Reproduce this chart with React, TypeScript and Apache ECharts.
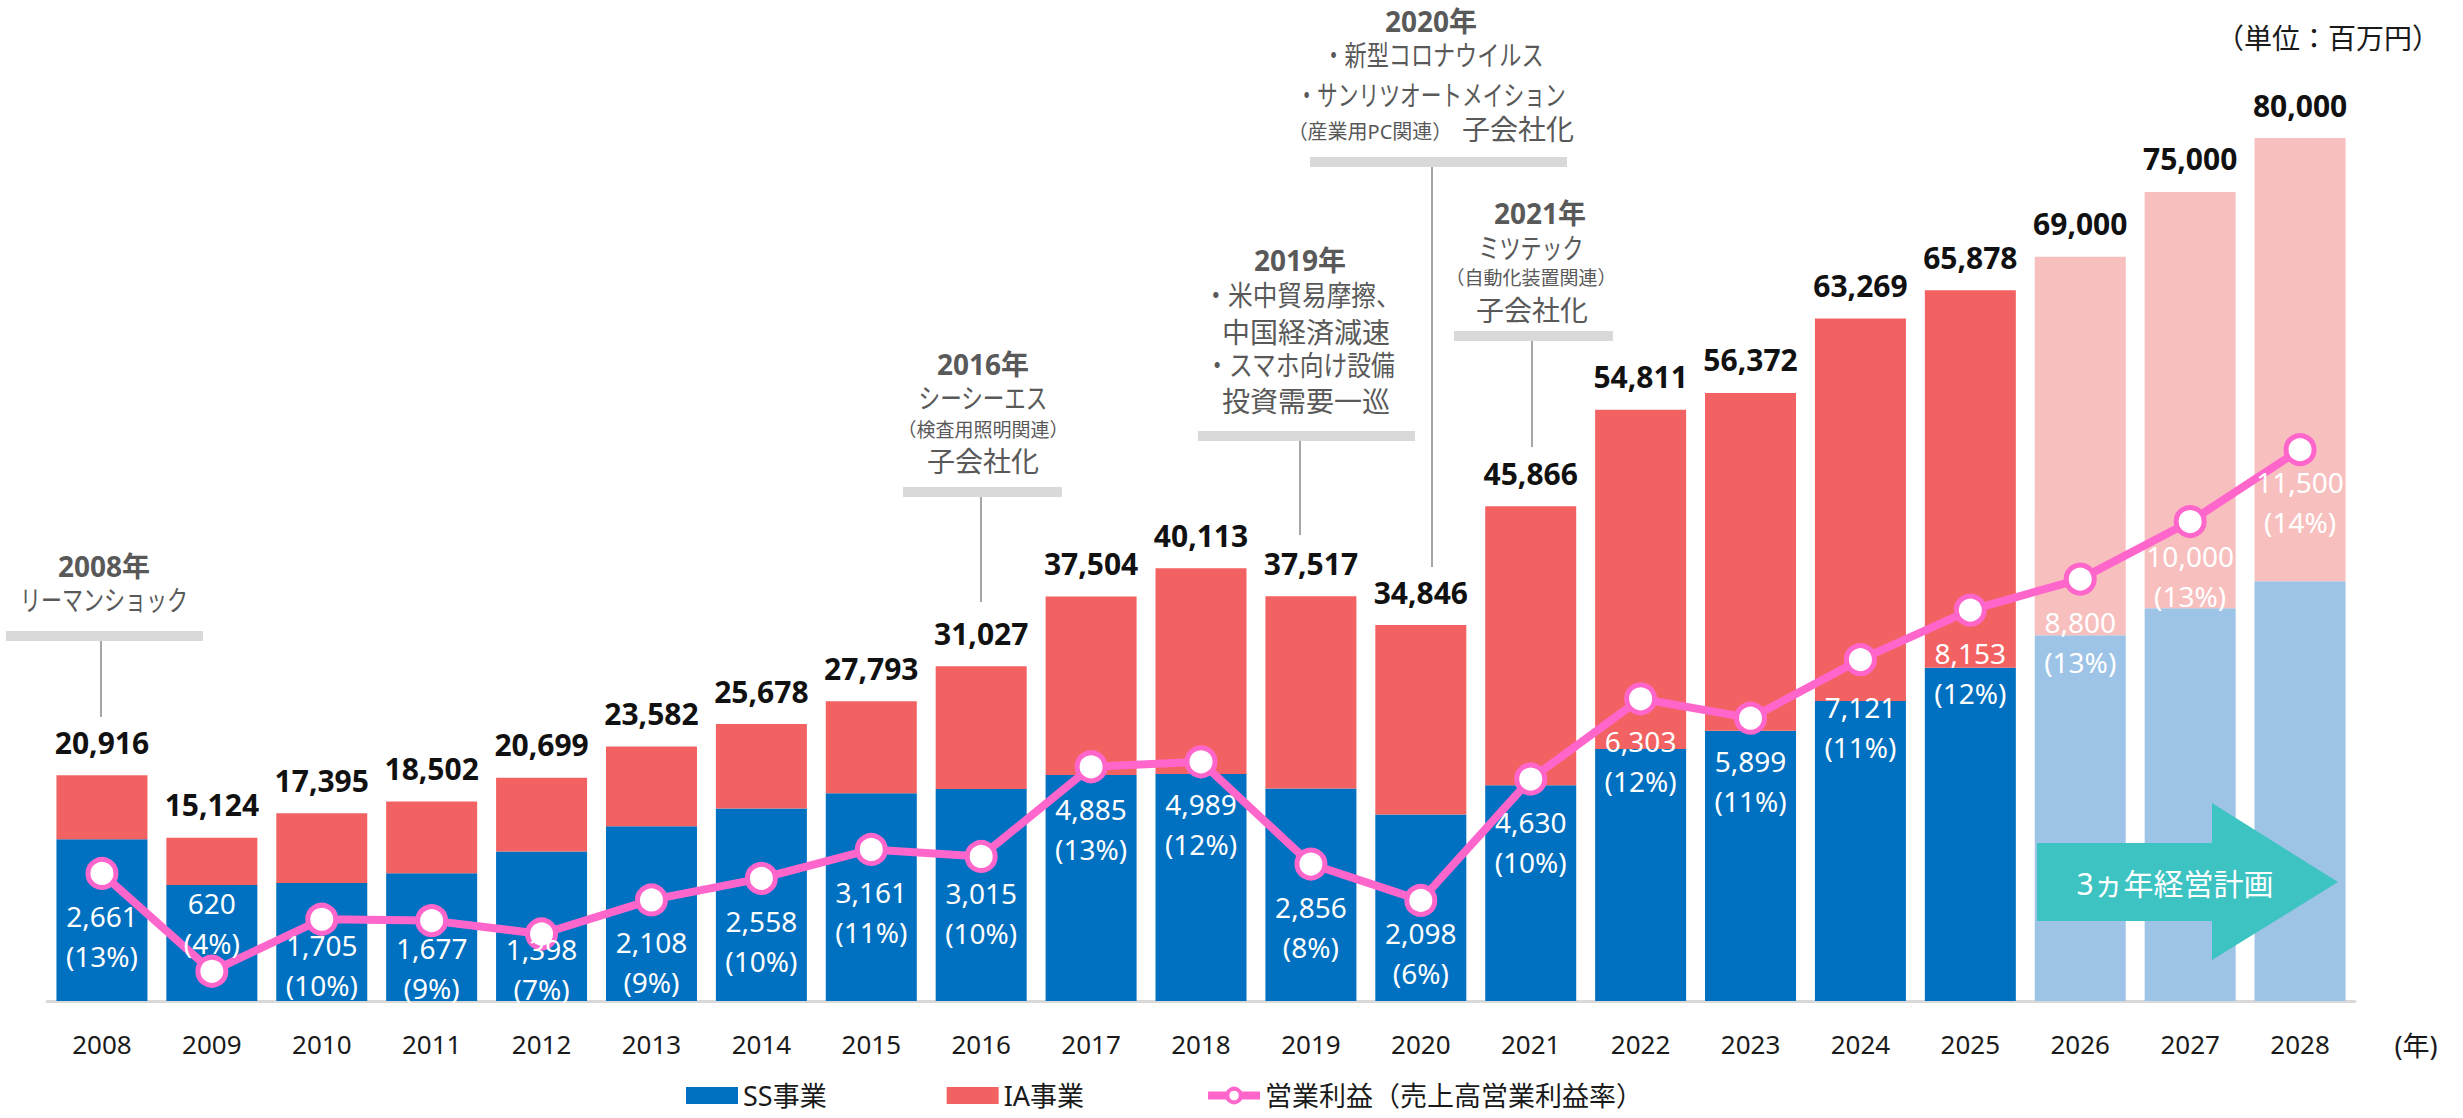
import React, { useEffect, useRef } from "react";
import * as echarts from "echarts";

// ---- data (百万円) ----
const years = ["2008", "2009", "2010", "2011", "2012", "2013", "2014", "2015", "2016", "2017", "2018", "2019", "2020", "2021", "2022", "2023", "2024", "2025", "2026", "2027", "2028"];
const totalSales = [20916, 15124, 17395, 18502, 20699, 23582, 25678, 27793, 31027, 37504, 40113, 37517, 34846, 45866, 54811, 56372, 63269, 65878, 69000, 75000, 80000];
const ssSales = [15000, 10750, 10950, 11850, 13850, 16200, 17850, 19250, 19650, 20950, 21050, 19700, 17300, 20000, 23350, 25050, 27800, 30900, 33900, 36400, 38900];
const iaSales = [5916, 4374, 6445, 6652, 6849, 7382, 7828, 8543, 11377, 16554, 19063, 17817, 17546, 25866, 31461, 31322, 35469, 34978, 35100, 38600, 41100];
const operatingProfit = [2661, 620, 1705, 1677, 1398, 2108, 2558, 3161, 3015, 4885, 4989, 2856, 2098, 4630, 6303, 5899, 7121, 8153, 8800, 10000, 11500];
const operatingMargin = [13, 4, 10, 9, 7, 9, 10, 11, 10, 13, 12, 8, 6, 10, 12, 11, 11, 12, 13, 13, 14];
const planStartYear = "2026";

const FONT = "'Noto Sans', 'Noto Sans CJK JP', sans-serif";
const C_SS = "#0070C0";
const C_IA = "#F36262";
const C_SS_PLAN = "#9DC3E6";
const C_IA_PLAN = "#F8BFBF";
const C_LINE = "#FF66CC";
const C_NOTE = "#595959";
const C_BAR = "#D9D9D9";
const C_VLINE = "#A6A6A6";

function txt(text: string, x: number, y: number, size: number, opts: any = {}) {
  return {
    type: "text",
    x,
    y,
    scaleX: opts.scaleX ?? 1,
    z: 20,
    style: {
      text,
      fill: opts.color ?? C_NOTE,
      fontSize: size,
      fontWeight: opts.bold ? "bold" : "normal",
      fontFamily: FONT,
      textAlign: opts.align ?? "center",
      textVerticalAlign: "middle",
    },
  };
}
function grayBar(x1: number, x2: number, y: number) {
  return { type: "rect", z: 5, shape: { x: x1, y, width: x2 - x1, height: 10 }, style: { fill: C_BAR } };
}
function vline(x: number, y1: number, y2: number) {
  return { type: "line", z: 5, shape: { x1: x, y1, x2: x, y2 }, style: { stroke: C_VLINE, lineWidth: 2 } };
}

export default function App() {
  const ref = useRef<HTMLDivElement>(null);
  useEffect(() => {
    if (!ref.current) return;
    const chart = echarts.init(ref.current, undefined, { renderer: "svg" });
    const planIdx = years.indexOf(planStartYear);

    const labelAdjust: Record<number, any> = {
      1: { position: "top", distance: 0, offset: [0, 8] },
      2: { offset: [0, -17] },
      3: { offset: [0, -15] },
      4: { offset: [0, -27] },
      8: { offset: [0, -6] },
      12: { offset: [0, -10] },
      16: { offset: [0, 5] },
      19: { offset: [0, -8] },
      20: { offset: [0, -10] },
    };

    const graphic: any[] = [
      // unit
      txt("（単位：百万円）", 2328, 38, 28, { color: "#1a1a1a" }),
      txt("(年)", 2416, 1045, 27, { color: "#1a1a1a" }),
      // 2008
      txt("2008年", 104, 566, 28, { bold: true }),
      txt("リーマンショック", 104, 600, 28, { scaleX: 0.75 }),
      grayBar(6, 203, 631),
      vline(101, 641, 717),
      // 2016
      txt("2016年", 983, 364, 28, { bold: true }),
      txt("シーシーエス", 983, 398, 28, { scaleX: 0.77 }),
      txt("（検査用照明関連）", 983, 430, 19),
      txt("子会社化", 983, 461, 28),
      grayBar(903, 1062, 487),
      vline(981, 497, 602),
      // 2019
      txt("2019年", 1300, 260, 28, { bold: true }),
      txt("・米中貿易摩擦、", 1302, 295, 28, { scaleX: 0.88 }),
      txt("中国経済減速", 1306, 332, 28),
      txt("・スマホ向け設備", 1300, 365, 28, { scaleX: 0.85 }),
      txt("投資需要一巡", 1306, 401, 28),
      grayBar(1198, 1415, 431),
      vline(1300, 441, 535),
      // 2020
      txt("2020年", 1431, 21, 28, { bold: true }),
      txt("・新型コロナウイルス", 1433, 55, 28, { scaleX: 0.79 }),
      txt("・サンリツオートメイション", 1431, 95, 28, { scaleX: 0.74 }),
      txt("（産業用PC関連）", 1370, 131, 20),
      txt("子会社化", 1518, 129, 28),
      grayBar(1310, 1567, 157),
      vline(1432, 167, 567),
      // 2021
      txt("2021年", 1540, 213, 28, { bold: true }),
      txt("ミツテック", 1531, 248, 28, { scaleX: 0.75 }),
      txt("（自動化装置関連）", 1531, 278, 19),
      txt("子会社化", 1532, 310, 28),
      grayBar(1454, 1613, 331),
      vline(1532, 341, 447),
      // plan arrow
      {
        type: "polygon",
        z: 30,
        shape: {
          points: [
            [2037, 843],
            [2212, 843],
            [2212, 803],
            [2338, 882],
            [2212, 960],
            [2212, 921],
            [2037, 921],
          ],
        },
        style: { fill: "#3EC3C3" },
      },
      { ...txt("3ヵ年経営計画", 2175, 883, 30, { color: "#ffffff" }), z: 31 },
    ];

    const option: any = {
      animation: false,
      textStyle: { fontFamily: FONT },
      grid: { left: 47, right: 108, top: 138, bottom: 117, containLabel: false },
      legend: {
        left: 681,
        top: 1077,
        itemGap: 120,
        itemWidth: 52,
        itemHeight: 17,
        textStyle: { fontSize: 27, color: "#1a1a1a", fontFamily: FONT },
        data: [
          { name: "SS事業", icon: "rect" },
          { name: "IA事業", icon: "rect" },
          {
            name: "営業利益（売上高営業利益率）",
            lineStyle: { width: 8, color: C_LINE },
            itemStyle: { color: "#ffffff", borderColor: C_LINE, borderWidth: 4 },
          },
        ],
      },
      xAxis: {
        type: "category",
        data: years,
        axisLine: { show: true, lineStyle: { color: "#D9D9D9", width: 3 } },
        axisTick: { show: false },
        axisLabel: { fontSize: 26, color: "#1a1a1a", margin: 30, fontFamily: FONT },
      },
      yAxis: [
        { type: "value", min: 0, max: 80000, show: false, splitLine: { show: false } },
        { type: "value", min: 0, max: 18000, show: false, splitLine: { show: false } },
      ],
      series: [
        {
          name: "SS事業",
          type: "bar",
          stack: "sales",
          barWidth: 91,
          itemStyle: { color: C_SS },
          data: ssSales.map((v, i) => ({ value: v, itemStyle: { color: i >= planIdx ? C_SS_PLAN : C_SS } })),
        },
        {
          name: "IA事業",
          type: "bar",
          stack: "sales",
          barWidth: 91,
          itemStyle: { color: C_IA },
          label: {
            show: true,
            position: "top",
            distance: 18,
            fontSize: 30,
            fontWeight: "bold",
            color: "#111111",
            fontFamily: FONT,
            formatter: (p: any) => totalSales[p.dataIndex].toLocaleString("en-US"),
          },
          data: iaSales.map((v, i) => ({ value: v, itemStyle: { color: i >= planIdx ? C_IA_PLAN : C_IA } })),
        },
        {
          name: "営業利益（売上高営業利益率）",
          type: "line",
          yAxisIndex: 1,
          z: 10,
          symbol: "circle",
          symbolSize: 28,
          lineStyle: { color: C_LINE, width: 8 },
          itemStyle: { color: "#ffffff", borderColor: C_LINE, borderWidth: 5 },
          label: {
            show: true,
            position: "bottom",
            distance: 6,
            color: "#ffffff",
            fontSize: 28,
            lineHeight: 40,
            fontFamily: FONT,
            formatter: (p: any) =>
              `${operatingProfit[p.dataIndex].toLocaleString("en-US")}\n(${operatingMargin[p.dataIndex]}%)`,
          },
          data: operatingProfit.map((v, i) => (labelAdjust[i] ? { value: v, label: labelAdjust[i] } : v)),
        },
      ],
      graphic,
    };
    chart.setOption(option);
    return () => chart.dispose();
  }, []);

  return <div ref={ref} style={{ position: "fixed", left: 0, top: 0, width: 2463, height: 1118, background: "#ffffff" }} />;
}
